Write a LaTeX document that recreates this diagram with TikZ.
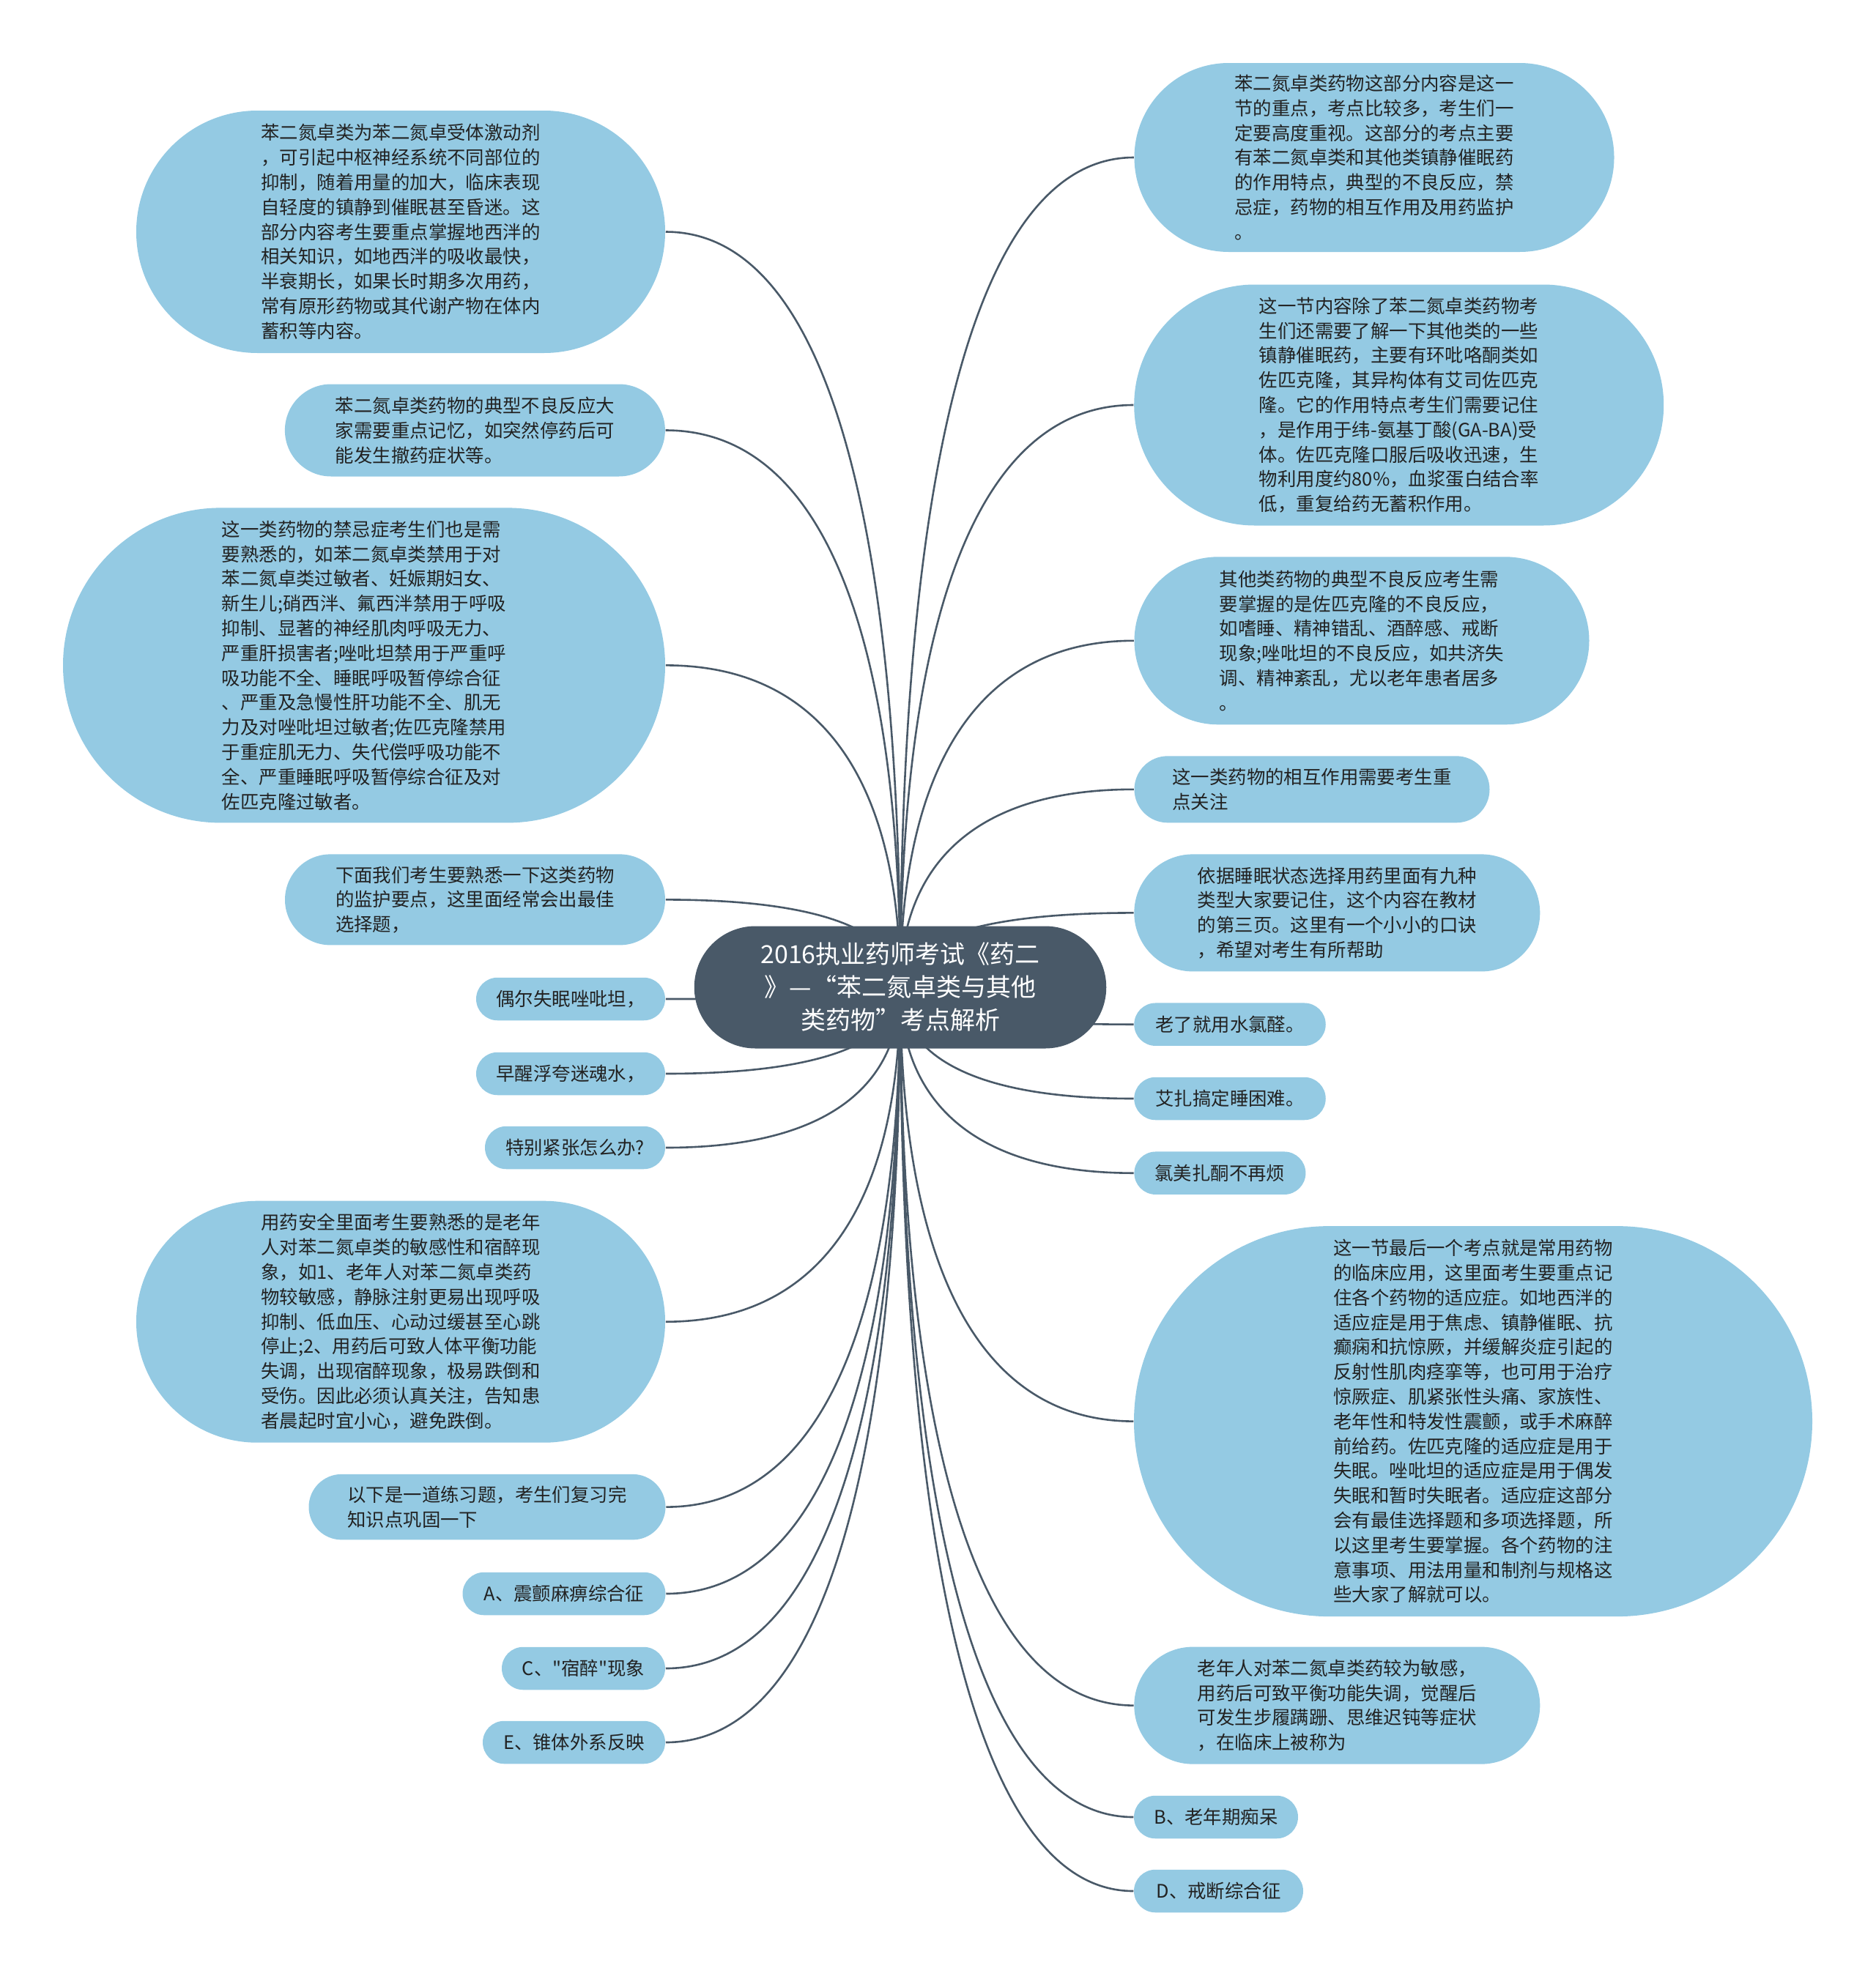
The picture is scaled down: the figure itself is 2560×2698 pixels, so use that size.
\documentclass[tikz,border=0pt]{standalone}
\usepackage{fontspec}
\setmainfont{Noto Sans CJK SC}[Ligatures=TeXOff]
\usetikzlibrary{backgrounds}

\tikzset{every picture/.style={line width=0.75pt}}
\tikzset{
  leaf/.style={fill={rgb, 255:red, 148; green, 202; blue, 227 }, text={rgb, 255:red, 34; green, 34; blue, 34 }, align=left, inner sep=0pt, font=\fontsize{12.7pt}{16.9pt}\selectfont},
  hub/.style={fill={rgb, 255:red, 73; green, 89; blue, 104 }, text=white, align=center, inner sep=0pt, font=\fontsize{17pt}{22.5pt}\selectfont},
  boxdim/.style 2 args={minimum width=#1*0.5pt, minimum height=#2*0.5pt, rounded corners=#2*0.25pt},
  link/.style={color={rgb, 255:red, 73; green, 89; blue, 104 }, line width=1.3pt}
}

\begin{document}
\begin{tikzpicture}[x=0.5pt,y=0.5pt,yscale=-1,xscale=1]
    \useasboundingbox (0,0) rectangle (2560,2698);

    %Shape: Central Pill [id:root]
    \node [hub, boxdim={562.5}{167}] (root) at (1229,1348) {2016执业药师考试《药二\\》—“苯二氮卓类与其他\\类药物”考点解析};

    % Left Nodes
    \node [leaf, boxdim={722}{331}] (l1) at (547,316.5) {苯二氮卓类为苯二氮卓受体激动剂\\，可引起中枢神经系统不同部位的\\抑制，随着用量的加大，临床表现\\自轻度的镇静到催眠甚至昏迷。这\\部分内容考生要重点掌握地西泮的\\相关知识，如地西泮的吸收最快，\\半衰期长，如果长时期多次用药，\\常有原形药物或其代谢产物在体内\\蓄积等内容。};
    \node [leaf, boxdim={519}{126}] (l2) at (648.4,587.5) {苯二氮卓类药物的典型不良反应大\\家需要重点记忆，如突然停药后可\\能发生撤药症状等。};
    \node [leaf, boxdim={822}{430}] (l3) at (497,908.4) {这一类药物的禁忌症考生们也是需\\要熟悉的，如苯二氮卓类禁用于对\\苯二氮卓类过敏者、妊娠期妇女、\\新生儿;硝西泮、氟西泮禁用于呼吸\\抑制、显著的神经肌肉呼吸无力、\\严重肝损害者;唑吡坦禁用于严重呼\\吸功能不全、睡眠呼吸暂停综合征\\、严重及急慢性肝功能不全、肌无\\力及对唑吡坦过敏者;佐匹克隆禁用\\于重症肌无力、失代偿呼吸功能不\\全、严重睡眠呼吸暂停综合征及对\\佐匹克隆过敏者。};
    \node [leaf, boxdim={519}{124}] (l4) at (648.5,1228.4) {下面我们考生要熟悉一下这类药物\\的监护要点，这里面经常会出最佳\\选择题，};
    \node [leaf, boxdim={258}{58.5}] (l5) at (779,1364) {偶尔失眠唑吡坦，};
    \node [leaf, boxdim={258}{58.5}] (l6) at (779,1466) {早醒浮夸迷魂水，};
    \node [leaf, boxdim={246}{58.5}] (l7) at (785,1567) {特别紧张怎么办?};
    \node [leaf, boxdim={722}{330}] (l8) at (547,1804.7) {用药安全里面考生要熟悉的是老年\\人对苯二氮卓类的敏感性和宿醉现\\象，如1、老年人对苯二氮卓类药\\物较敏感，静脉注射更易出现呼吸\\抑制、低血压、心动过缓甚至心跳\\停止;2、用药后可致人体平衡功能\\失调，出现宿醉现象，极易跌倒和\\受伤。因此必须认真关注，告知患\\者晨起时宜小心，避免跌倒。};
    \node [leaf, boxdim={487}{89.5}] (l9) at (665,2057.6) {以下是一道练习题，考生们复习完\\知识点巩固一下};
    \node [leaf, boxdim={277}{58.5}] (l10) at (770,2176) {A、震颤麻痹综合征};
    \node [leaf, boxdim={223}{58.5}] (l11) at (796.5,2278) {C、"宿醉"现象};
    \node [leaf, boxdim={249}{58.5}] (l12) at (783.5,2379) {E、锥体外系反映};

    % Right Nodes
    \node [leaf, boxdim={655}{258}] (r1) at (1876,215) {苯二氮卓类药物这部分内容是这一\\节的重点，考点比较多，考生们一\\定要高度重视。这部分的考点主要\\有苯二氮卓类和其他类镇静催眠药\\的作用特点，典型的不良反应，禁\\忌症，药物的相互作用及用药监护\\。};
    \node [leaf, boxdim={723}{329}] (r2) at (1909.7,553) {这一节内容除了苯二氮卓类药物考\\生们还需要了解一下其他类的一些\\镇静催眠药，主要有环吡咯酮类如\\佐匹克隆，其异构体有艾司佐匹克\\隆。它的作用特点考生们需要记住\\，是作用于纬-氨基丁酸(GA-BA)受\\体。佐匹克隆口服后吸收迅速，生\\物利用度约80\%，血浆蛋白结合率\\低，重复给药无蓄积作用。};
    \node [leaf, boxdim={621}{229}] (r3) at (1859,874.8) {其他类药物的典型不良反应考生需\\要掌握的是佐匹克隆的不良反应，\\如嗜睡、精神错乱、酒醉感、戒断\\现象;唑吡坦的不良反应，如共济失\\调、精神紊乱，尤以老年患者居多\\。};
    \node [leaf, boxdim={485}{91}] (r4) at (1791,1077.8) {这一类药物的相互作用需要考生重\\点关注};
    \node [leaf, boxdim={554}{160}] (r5) at (1825.3,1246.4) {依据睡眠状态选择用药里面有九种\\类型大家要记住，这个内容在教材\\的第三页。这里有一个小小的口诀\\，希望对考生有所帮助};
    \node [leaf, boxdim={261.5}{58.5}] (r6) at (1679,1398.7) {老了就用水氯醛。};
    \node [leaf, boxdim={261.5}{58.5}] (r7) at (1679,1500) {艾扎搞定睡困难。};
    \node [leaf, boxdim={234}{58.5}] (r8) at (1665.4,1601.7) {氯美扎酮不再烦};
    \node [leaf, boxdim={926}{533}] (r9) at (2011,1940.6) {这一节最后一个考点就是常用药物\\的临床应用，这里面考生要重点记\\住各个药物的适应症。如地西泮的\\适应症是用于焦虑、镇静催眠、抗\\癫痫和抗惊厥，并缓解炎症引起的\\反射性肌肉痉挛等，也可用于治疗\\惊厥症、肌紧张性头痛、家族性、\\老年性和特发性震颤，或手术麻醉\\前给药。佐匹克隆的适应症是用于\\失眠。唑吡坦的适应症是用于偶发\\失眠和暂时失眠者。适应症这部分\\会有最佳选择题和多项选择题，所\\以这里考生要掌握。各个药物的注\\意事项、用法用量和制剂与规格这\\些大家了解就可以。};
    \node [leaf, boxdim={554}{160}] (r10) at (1825.3,2328.6) {老年人对苯二氮卓类药较为敏感，\\用药后可致平衡功能失调，觉醒后\\可发生步履蹒跚、思维迟钝等症状\\，在临床上被称为};
    \node [leaf, boxdim={224}{58.5}] (r11) at (1660,2481) {B、老年期痴呆};
    \node [leaf, boxdim={231}{58.5}] (r12) at (1663.5,2582) {D、戒断综合征};

    %Curves: root to leaves
    \begin{scope}[on background layer]
    \draw [link] (root.center) .. controls +(0,-619) and +(225,0) .. (l1.east);
    \draw [link] (root.center) .. controls +(0,-456) and +(225,0) .. (l2.east);
    \draw [link] (root.center) .. controls +(0,-264) and +(225,0) .. (l3.east);
    \draw [link] (root.center) .. controls +(0,-72) and +(225,0) .. (l4.east);
    \draw [link] (root.center) .. controls +(0,10) and +(225,0) .. (l5.east);
    \draw [link] (root.center) .. controls +(0,71) and +(225,0) .. (l6.east);
    \draw [link] (root.center) .. controls +(0,131) and +(225,0) .. (l7.east);
    \draw [link] (root.center) .. controls +(0,274) and +(225,0) .. (l8.east);
    \draw [link] (root.center) .. controls +(0,426) and +(225,0) .. (l9.east);
    \draw [link] (root.center) .. controls +(0,497) and +(225,0) .. (l10.east);
    \draw [link] (root.center) .. controls +(0,558) and +(225,0) .. (l11.east);
    \draw [link] (root.center) .. controls +(0,619) and +(225,0) .. (l12.east);

    \draw [link] (root.center) .. controls +(0,-680) and +(-223,0) .. (r1.west);
    \draw [link] (root.center) .. controls +(0,-477) and +(-223,0) .. (r2.west);
    \draw [link] (root.center) .. controls +(0,-284) and +(-223,0) .. (r3.west);
    \draw [link] (root.center) .. controls +(0,-162) and +(-223,0) .. (r4.west);
    \draw [link] (root.center) .. controls +(0,-61) and +(-223,0) .. (r5.west);
    \draw [link] (root.center) .. controls +(0,30) and +(-223,0) .. (r6.west);
    \draw [link] (root.center) .. controls +(0,91) and +(-223,0) .. (r7.west);
    \draw [link] (root.center) .. controls +(0,152) and +(-223,0) .. (r8.west);
    \draw [link] (root.center) .. controls +(0,356) and +(-223,0) .. (r9.west);
    \draw [link] (root.center) .. controls +(0,588) and +(-223,0) .. (r10.west);
    \draw [link] (root.center) .. controls +(0,680) and +(-223,0) .. (r11.west);
    \draw [link] (root.center) .. controls +(0,740) and +(-223,0) .. (r12.west);
    \end{scope}

\end{tikzpicture}
\end{document}
